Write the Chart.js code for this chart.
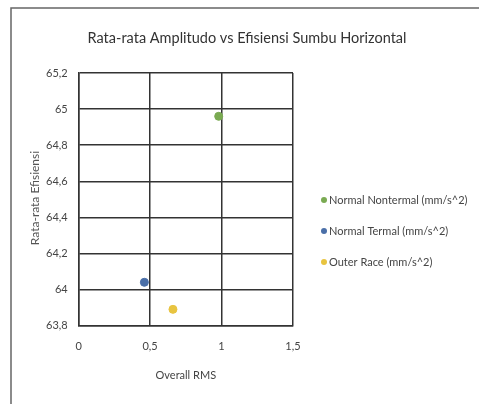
<!DOCTYPE html>
<html>
<head>
<meta charset="utf-8">
<script src="https://cdn.jsdelivr.net/npm/chart.js@4.4.1/dist/chart.umd.min.js"></script>
<style>
  html, body { margin: 0; padding: 0; background: #fff; }
  #wrap { width: 479px; height: 406px; position: relative; }
</style>
</head>
<body>
<div id="wrap"><canvas id="rmsChart"></canvas></div>
<script>
// values
const chartTitle = 'Rata-rata Amplitudo vs Efisiensi Sumbu Horizontal';
const yTitle = 'Rata-rata Efisiensi';
const seriesNames = ['Normal Nontermal (mm/s^2)', 'Normal Termal (mm/s^2)', 'Outer Race (mm/s^2)'];
const seriesColors = ['#7aaa52', '#4a6fa8', '#e8c440'];
const rmsValues = [0.98, 0.46, 0.66];
const efisiensiValues = [64.96, 64.04, 63.89];
const xTicks = [0, 0.5, 1, 1.5];
const yTicks = [63.8, 64, 64.2, 64.4, 64.6, 64.8, 65, 65.2];

const FONT = "Lato, 'Open Sans', sans-serif";

function comma(v) {
    return String(Number(v.toFixed(1))).replace('.', ',');
}

// frame around the chart, the title and the y title, like the excel chart box
const framePlugin = {
    id: 'frame',
    beforeDraw(chart) {
        const c = chart.ctx;
        c.save();
        c.fillStyle = '#fff';
        c.fillRect(0, 0, chart.width, chart.height);
        c.strokeStyle = '#666';
        c.lineWidth = 1.5;
        c.beginPath();
        c.moveTo(chart.width, 8);
        c.lineTo(11, 8);
        c.lineTo(11, 404);
        c.stroke();
        c.font = '14.5px ' + FONT;
        c.fillStyle = '#333';
        c.textAlign = 'center';
        c.textBaseline = 'middle';
        c.fillText(chartTitle, 247, 38);
        // rotated y title sits close to the tick labels
        c.translate(35, 198);
        c.rotate(-Math.PI / 2);
        c.font = '12px ' + FONT;
        c.fillStyle = '#555';
        c.fillText(yTitle, 0, 0);
        c.restore();
    }
};

// legend on the right, drawn by hand to keep spacing like the picture
const sideLegend = {
    id: 'sideLegend',
    afterDraw(chart) {
        const c = chart.ctx;
        c.save();
        c.font = '11px ' + FONT;
        c.textBaseline = 'middle';
        seriesNames.forEach((name, i) => {
            const y = 200 + i * 31;
            c.fillStyle = seriesColors[i];
            c.beginPath();
            c.arc(324, y, 3, 0, Math.PI * 2);
            c.fill();
            c.fillStyle = '#444';
            c.fillText(name, 329, y);
        });
        c.restore();
    }
};

const datasets = seriesNames.map((name, i) => ({
    label: name,
    data: [{ x: rmsValues[i], y: efisiensiValues[i] }],
    backgroundColor: seriesColors[i],
    borderColor: seriesColors[i],
    pointRadius: 4,
    pointHoverRadius: 4
}));

const ctx = document.getElementById('rmsChart').getContext('2d');
const chart = new Chart(ctx, {
    type: 'scatter',
    data: { datasets: datasets },
    plugins: [framePlugin, sideLegend],
    options: {
        responsive: true,
        maintainAspectRatio: false,
        animation: false,
        layout: { padding: { top: 73, left: 35, right: 186, bottom: 20 } },
        plugins: {
            legend: { display: false },
            tooltip: { enabled: false },
            title: { display: false }
        },
        scales: {
            x: {
                type: 'linear',
                min: 0,
                max: 1.5,
                afterBuildTicks: axis => { axis.ticks = xTicks.map(v => ({ value: v })); },
                ticks: { callback: v => comma(v), color: '#444', font: { family: FONT, size: 11 }, padding: 14, maxRotation: 0 },
                grid: { color: '#333', lineWidth: 1.5, drawTicks: false },
                border: { color: '#333', width: 1.5 },
                title: { display: true, text: 'Overall RMS', color: '#444', font: { family: FONT, size: 11 }, padding: { top: 2 } }
            },
            y: {
                type: 'linear',
                min: 63.8,
                max: 65.2,
                afterBuildTicks: axis => { axis.ticks = yTicks.map(v => ({ value: v })); },
                ticks: { callback: v => comma(v), color: '#444', font: { family: FONT, size: 11 }, padding: 11 },
                grid: { color: '#333', lineWidth: 1.5, drawTicks: false },
                border: { color: '#333', width: 1.5 },
                title: { display: false }
            }
        }
    }
});
</script>
</body>
</html>
